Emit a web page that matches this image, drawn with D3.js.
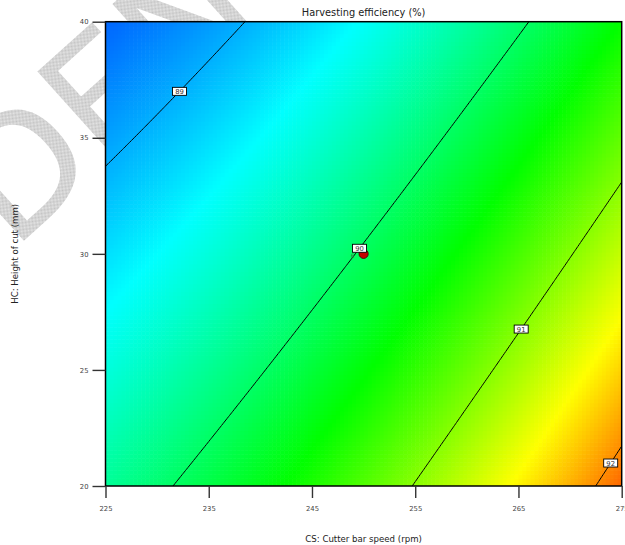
<!DOCTYPE html>
<html>
<head>
<meta charset="utf-8">
<script src="https://cdn.jsdelivr.net/npm/d3@7"></script>
<style>
  html, body { margin: 0; padding: 0; background: #fff; }
  svg { display: block; }
</style>
</head>
<body>
<script>
// Factor ranges and tick labels (actual units)
const csRange = [225, 275];
const hcRange = [20, 40];
const csTicks = [225, 235, 245, 255, 265, 275];
const hcTicks = [20, 25, 30, 35, 40];

// Fitted quadratic model in coded factors (A = CS, B = HC)
const termNames = ["Intercept", "A", "B", "AB", "A²", "B²"];
const termCoefs = [90.033, 1.031, -0.705, -0.158, 0.200, 0.031];

// Contour levels and the height of cut where each one carries its label
const contourLevels = [89, 90, 91, 92];
const labelHeights = [37.0, 30.24, 26.76, 20.99];

// Design point (centre point with its replicate count)
const designCS = [250];
const designHC = [30];
const designReps = [6];

const titleText = "Harvesting efficiency (%)";
const xTitle = "CS: Cutter bar speed (rpm)";
const yTitle = "HC: Height of cut (mm)";
const stampText = "STUDENT";

const W = 625, H = 545;
const plot = { x0: 105.5, x1: 621.7, y0: 21.7, y1: 486 };

const xs = d3.scaleLinear().domain(csRange).range([plot.x0, plot.x1]);
const ys = d3.scaleLinear().domain(hcRange).range([plot.y1, plot.y0]);

const csMid = (csRange[0] + csRange[1]) / 2, csHalf = (csRange[1] - csRange[0]) / 2;
const hcMid = (hcRange[0] + hcRange[1]) / 2, hcHalf = (hcRange[1] - hcRange[0]) / 2;

function predict(cs, hc) {
  const A = (cs - csMid) / csHalf, B = (hc - hcMid) / hcHalf;
  const t = [1, A, B, A * B, A * A, B * B];
  return d3.sum(t, (v, i) => v * termCoefs[i]);
}

const svg = d3.select("body").append("svg")
  .attr("width", W).attr("height", H)
  .style("font-family", "'DejaVu Sans', Verdana, sans-serif");

const defs = svg.append("defs");
const pat = defs.append("pattern").attr("id", "stipple")
  .attr("width", 2).attr("height", 2).attr("patternUnits", "userSpaceOnUse");
pat.append("rect").attr("width", 2).attr("height", 2).attr("fill", "#e6e6e6");
pat.append("rect").attr("width", 1).attr("height", 1).attr("fill", "#c2c2c2");
pat.append("rect").attr("x", 1).attr("y", 1).attr("width", 1).attr("height", 1).attr("fill", "#c2c2c2");

defs.append("clipPath").attr("id", "plotClip")
  .append("rect")
  .attr("x", plot.x0).attr("y", plot.y0)
  .attr("width", plot.x1 - plot.x0).attr("height", plot.y1 - plot.y0);

// Background stamp
svg.append("text")
  .attr("transform", "translate(-223,463) rotate(-42)")
  .attr("font-size", 160)
  .attr("fill", "url(#stipple)")
  .text(stampText);

// ---- Response surface colour field ----
const nx = 130, ny = 117;
const cells = [];
for (let j = 0; j < ny; j++) {
  for (let i = 0; i < nx; i++) {
    const c0 = csRange[0] + (csRange[1] - csRange[0]) * i / nx;
    const c1 = csRange[0] + (csRange[1] - csRange[0]) * (i + 1) / nx;
    const h0 = hcRange[0] + (hcRange[1] - hcRange[0]) * j / ny;
    const h1 = hcRange[0] + (hcRange[1] - hcRange[0]) * (j + 1) / ny;
    cells.push({ c0, c1, h0, h1, v: predict((c0 + c1) / 2, (h0 + h1) / 2) });
  }
}

// Fine grid for the contour lines (edges included)
const N = 201;
const gridCS = d3.scaleLinear().domain([0.5, N - 0.5]).range(csRange);
const gridHC = d3.scaleLinear().domain([0.5, N - 0.5]).range(hcRange);
const gridVals = new Array(N * N);
for (let j = 0; j < N; j++) {
  for (let i = 0; i < N; i++) {
    gridVals[j * N + i] = predict(gridCS(i + 0.5), gridHC(j + 0.5));
  }
}

const extent = d3.extent(gridVals);
const hue = d3.scaleLinear().domain(extent).range([216, 24]);
const colour = v => d3.hsl(hue(v), 1, 0.5).formatHex();

const field = svg.append("g").attr("clip-path", "url(#plotClip)");
field.selectAll("rect").data(cells).join("rect")
  .attr("x", d => xs(d.c0))
  .attr("y", d => ys(d.h1))
  .attr("width", d => xs(d.c1) - xs(d.c0) + 0.6)
  .attr("height", d => ys(d.h0) - ys(d.h1) + 0.6)
  .attr("fill", d => colour(d.v));

// ---- Contour lines ----
const contours = d3.contours().size([N, N]).thresholds(contourLevels)(gridVals);
const toPixels = d3.geoTransform({
  point(x, y) { this.stream.point(xs(gridCS(x)), ys(gridHC(y))); }
});
const path = d3.geoPath(toPixels);
svg.append("g").attr("clip-path", "url(#plotClip)")
  .selectAll("path").data(contours).join("path")
  .attr("d", path)
  .attr("fill", "none")
  .attr("stroke", "#000")
  .attr("stroke-width", 1);

// ---- Frame ----
svg.append("rect")
  .attr("x", plot.x0).attr("y", plot.y0)
  .attr("width", plot.x1 - plot.x0).attr("height", plot.y1 - plot.y0)
  .attr("fill", "none").attr("stroke", "#000").attr("stroke-width", 1.5);

// ---- Axes ----
const xAxis = d3.axisBottom(xs).tickValues(csTicks).tickSize(12).tickSizeOuter(0).tickPadding(8);
const yAxis = d3.axisLeft(ys).tickValues(hcTicks).tickSize(13).tickSizeOuter(0).tickPadding(4);

const gx = svg.append("g").attr("transform", `translate(0,${plot.y1})`).call(xAxis);
const gy = svg.append("g").attr("transform", `translate(${plot.x0},0)`).call(yAxis);
[gx, gy].forEach(g => {
  g.select(".domain").remove();
  g.selectAll(".tick line").attr("stroke", "#333").attr("stroke-width", 1.4);
  g.selectAll(".tick text")
    .attr("fill", "#444")
    .attr("font-size", 6.8)
    .attr("font-family", "'DejaVu Sans', Verdana, sans-serif");
});

// ---- Design point ----
const dp = svg.append("g");
dp.selectAll("text").data(designReps).join("text")
  .attr("x", (d, i) => xs(designCS[i]) - 11)
  .attr("y", (d, i) => ys(designHC[i]) + 4)
  .attr("text-anchor", "middle")
  .attr("font-size", 6)
  .attr("fill", "#3d7a3d")
  .text(d => d);

// ---- Contour labels ----
function csOnLevel(level, hc) {
  let lo = csRange[0], hi = csRange[1];
  for (let k = 0; k < 60; k++) {
    const mid = (lo + hi) / 2;
    if (predict(mid, hc) < level) lo = mid; else hi = mid;
  }
  return (lo + hi) / 2;
}
const labels = contourLevels.map((lv, i) => ({
  lv, cs: csOnLevel(lv, labelHeights[i]), hc: labelHeights[i]
}));
const lg = svg.append("g").selectAll("g").data(labels).join("g")
  .attr("transform", d => `translate(${xs(d.cs)},${ys(d.hc)})`);
lg.append("rect")
  .attr("x", -7).attr("y", -4).attr("width", 14).attr("height", 8)
  .attr("fill", "#fff").attr("stroke", "#000").attr("stroke-width", 0.9);
lg.append("text")
  .attr("text-anchor", "middle").attr("y", 2.6)
  .attr("font-size", 6.8).attr("fill", "#333")
  .text(d => d.lv);

dp.selectAll("circle").data(designCS).join("circle")
  .attr("cx", (d, i) => xs(d))
  .attr("cy", (d, i) => ys(designHC[i]))
  .attr("r", 4.6)
  .attr("fill", "#c40000")
  .attr("stroke", "#4a0000")
  .attr("stroke-width", 0.9);

// ---- Titles ----
svg.append("text")
  .attr("x", (plot.x0 + plot.x1) / 2).attr("y", 15.5)
  .attr("text-anchor", "middle").attr("font-size", 9.8).attr("fill", "#222")
  .text(titleText);

svg.append("text")
  .attr("x", (plot.x0 + plot.x1) / 2).attr("y", 542)
  .attr("text-anchor", "middle").attr("font-size", 8.6).attr("fill", "#222")
  .text(xTitle);

svg.append("text")
  .attr("transform", `translate(18,${(plot.y0 + plot.y1) / 2}) rotate(-90)`)
  .attr("text-anchor", "middle").attr("font-size", 8.6).attr("fill", "#222")
  .text(yTitle);
</script>
</body>
</html>
